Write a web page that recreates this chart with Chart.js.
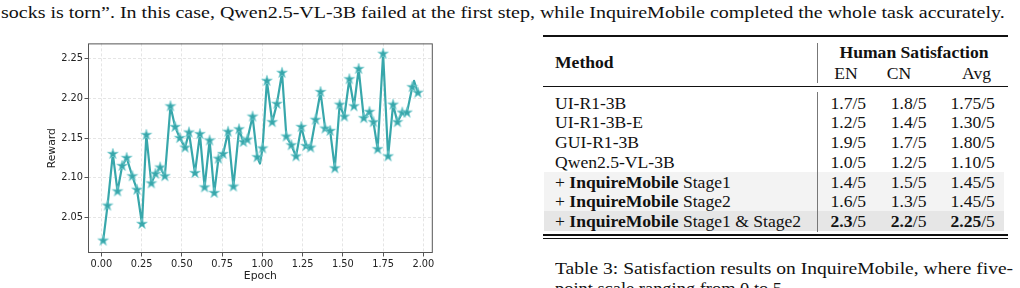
<!DOCTYPE html>
<html>
<head>
<meta charset="utf-8">
<script src="https://cdn.jsdelivr.net/npm/chart.js@4.4.1/dist/chart.umd.min.js"></script>
<style>
  html, body { margin: 0; padding: 0; background: #fff; }
  body { width: 1020px; height: 288px; overflow: hidden; position: relative; font-family: 'Liberation Serif', serif; color: #111; }
  .txt { position: absolute; white-space: nowrap; font-size: 17.6px; line-height: 20px; height: 20px; }
  .fit { transform-origin: 0 50%; }
  .c { text-align: center; width: 90px; }
  .rule { position: absolute; left: 543px; width: 465px; background: #111; }
  .vbar { position: absolute; left: 817px; width: 1.3px; background: #777; }
  .shade { position: absolute; left: 544px; width: 460px; }
  #chartBox { position: absolute; left: 40px; top: 36px; width: 400px; height: 252px; }
</style>
</head>
<body>
<div id="topLine" class="txt fit" style="left:1px; top:2px;">socks is torn”. In this case, Qwen2.5-VL-3B failed at the first step, while InquireMobile completed the whole task accurately.</div>

<div id="table"></div>

<div id="cap1" class="txt fit" style="left:555px; top:258px;">Table 3: Satisfaction results on InquireMobile, where five-</div>
<div id="cap2" class="txt fit" style="left:555px; top:278px;">point scale ranging from 0 to 5.</div>

<div id="chartBox"><canvas id="rewardChart" width="400" height="252"></canvas></div>

<script>
// reward curve
const epochs = [0.011, 0.038, 0.071, 0.100, 0.129, 0.157, 0.192, 0.221, 0.252, 0.279,
  0.310, 0.336, 0.365, 0.394, 0.429, 0.458, 0.487, 0.520, 0.544, 0.581,
  0.612, 0.641, 0.672, 0.701, 0.727, 0.756, 0.787, 0.820, 0.855, 0.882,
  0.906, 0.939, 0.968, 0.985, 1.001, 1.028, 1.061, 1.090, 1.122, 1.149,
  1.180, 1.209, 1.242, 1.271, 1.299, 1.330, 1.361, 1.390, 1.421, 1.450,
  1.480, 1.509, 1.540, 1.569, 1.598, 1.630, 1.665, 1.690, 1.716, 1.750,
  1.781, 1.812, 1.839, 1.869, 1.898, 1.931, 1.942, 1.966];
const rewards = [2.021, 2.065, 2.130, 2.083, 2.115, 2.125, 2.102, 2.085, 2.042, 2.154,
  2.093, 2.105, 2.113, 2.102, 2.190, 2.164, 2.150, 2.138, 2.157, 2.106,
  2.155, 2.088, 2.147, 2.081, 2.124, 2.130, 2.158, 2.089, 2.161, 2.145,
  2.148, 2.177, 2.126, 2.118, 2.137, 2.222, 2.170, 2.193, 2.232, 2.152,
  2.141, 2.127, 2.164, 2.140, 2.138, 2.173, 2.208, 2.162, 2.159, 2.112,
  2.192, 2.177, 2.224, 2.190, 2.237, 2.175, 2.183, 2.170, 2.136, 2.256,
  2.127, 2.192, 2.170, 2.182, 2.182, 2.214, 2.222, 2.207];
// samples where the line bends but no star is drawn
const unmarked = [33, 66];

const xTicks = [0, 0.25, 0.5, 0.75, 1.0, 1.25, 1.5, 1.75, 2.0];
const yTicks = [2.05, 2.10, 2.15, 2.20, 2.25];

// table 3
const methods = ['UI-R1-3B', 'UI-R1-3B-E', 'GUI-R1-3B', 'Qwen2.5-VL-3B',
  '+ InquireMobile Stage1', '+ InquireMobile Stage2', '+ InquireMobile Stage1 & Stage2'];
const scoreEN = ['1.7/5', '1.2/5', '1.9/5', '1.0/5', '1.4/5', '1.6/5', '2.3/5'];
const scoreCN = ['1.8/5', '1.4/5', '1.7/5', '1.2/5', '1.5/5', '1.3/5', '2.2/5'];
const scoreAvg = ['1.75/5', '1.30/5', '1.80/5', '1.10/5', '1.45/5', '1.45/5', '2.25/5'];
const bestRow = 6;

// ---- table layout ----
const table = document.getElementById('table');
function add(html, cls, style) {
  const d = document.createElement('div');
  d.className = cls;
  d.innerHTML = html;
  d.setAttribute('style', style);
  table.appendChild(d);
  return d;
}
add('', 'rule', 'top:35px; height:2px;');
add('', 'rule', 'top:86px; height:1.2px;');
add('', 'rule', 'top:233.8px; height:2.2px;');
add('', 'rule', 'top:237.6px; height:1px;');
add('', 'shade', 'top:171.5px; height:39.5px; background:#f3f3f3;');
add('', 'shade', 'top:211px; height:19.8px; background:#e6e6e6;');
add('', 'vbar', 'top:43px; height:39.5px;');
add('', 'vbar', 'top:92px; height:139.8px;');

add('<b>Method</b>', 'txt', 'left:555px; top:51.5px;');
add('<b>Human Satisfaction</b>', 'txt c', 'left:' + (914 - 75) + 'px; width:150px; top:41.7px;');
const colCenters = [848.3, 908.6, 972.7];
const headCenters = [846, 899, 976.5];
['EN', 'CN', 'Avg'].forEach((h, i) => add(h, 'txt c', 'left:' + (headCenters[i] - 45) + 'px; top:62.5px;'));

const rowPitch = 19.7;
methods.forEach((m, r) => {
  const top = 102.7 + r * rowPitch - 10;
  add(m.replace('InquireMobile', '<b>InquireMobile</b>'), 'txt', 'left:555px; top:' + top + 'px;');
  [scoreEN, scoreCN, scoreAvg].forEach((col, i) => {
    let v = col[r];
    if (r === bestRow) v = '<b>' + v.split('/')[0] + '</b>/' + v.split('/')[1];
    add(v, 'txt c', 'left:' + (colCenters[i] - 45) + 'px; top:' + top + 'px;');
  });
});

// stretch the prose lines to the measured widths of the page
function fitWidth(id, w) {
  const el = document.getElementById(id);
  el.style.transform = 'scaleX(' + (w / el.offsetWidth) + ')';
}
fitWidth('topLine', 1004);
fitWidth('cap1', 458);
fitWidth('cap2', 458 * 0.505);

// ---- chart ----
const teal = '#38a7ab';

function makeStar(r, fill, edge) {
  const size = Math.ceil(r * 2 + 4);
  const c = document.createElement('canvas');
  c.width = c.height = size;
  const g = c.getContext('2d');
  g.beginPath();
  for (let i = 0; i < 10; i++) {
    const rr = i % 2 ? r * 0.381966 : r;
    const a = -Math.PI / 2 + i * Math.PI / 5;
    g.lineTo(size / 2 + rr * Math.cos(a), size / 2 + rr * Math.sin(a));
  }
  g.closePath();
  g.fillStyle = fill;
  g.fill();
  g.lineWidth = 0.8;
  g.strokeStyle = edge;
  g.stroke();
  return c;
}
const star = makeStar(5.6, teal, 'rgba(120,205,208,0.9)');

const boxPlugin = {
  id: 'box',
  afterDraw(chart) {
    const {ctx, chartArea: a} = chart;
    ctx.save();
    ctx.strokeStyle = '#555';
    ctx.lineWidth = 1;
    ctx.strokeRect(a.left + 0.5, a.top + 0.5, a.right - a.left - 1, a.bottom - a.top - 1);
    ctx.restore();
  }
};

Chart.defaults.font.family = 'DejaVu Sans';
Chart.defaults.color = '#222';

new Chart(document.getElementById('rewardChart'), {
  type: 'line',
  data: {
    datasets: [{
      label: 'Reward',
      data: epochs.map((e, i) => ({x: e, y: rewards[i]})),
      borderColor: teal,
      borderWidth: 2.2,
      borderJoinStyle: 'round',
      borderCapStyle: 'round',
      tension: 0,
      pointStyle: star,
      pointRadius: ctx => unmarked.includes(ctx.dataIndex) ? 0 : 5,
      pointHoverRadius: 5,
    }]
  },
  options: {
    responsive: false,
    animation: false,
    events: [],
    layout: { padding: { left: 0, right: 5, top: 6, bottom: 0 } },
    plugins: { legend: { display: false }, tooltip: { enabled: false } },
    scales: {
      x: {
        type: 'linear',
        min: -0.0833,
        max: 2.0586,
        afterBuildTicks: axis => { axis.ticks = xTicks.map(v => ({value: v})); },
        afterFit: axis => { axis.height = 35; },
        ticks: { font: { size: 9.8 }, padding: 1.7, maxRotation: 0, callback: v => v.toFixed(2) },
        grid: { color: '#dedede', lineWidth: 0.8, tickColor: '#555', tickLength: 3.5, tickWidth: 1 },
        border: { display: false, dash: [3, 2] },
        title: { display: true, text: 'Epoch', font: { size: 10.8 }, padding: { top: 0, bottom: 5.5 } }
      },
      y: {
        min: 2.0054,
        max: 2.2691,
        afterBuildTicks: axis => { axis.ticks = yTicks.map(v => ({value: v})); },
        afterFit: axis => { axis.width = 48; },
        ticks: { font: { size: 9.8 }, padding: 1.5, callback: v => v.toFixed(2) },
        grid: { color: '#dedede', lineWidth: 0.8, tickColor: '#555', tickLength: 3.5, tickWidth: 1 },
        border: { display: false, dash: [3, 2] },
        title: { display: true, text: 'Reward', font: { size: 10.8 }, padding: { top: 5.8, bottom: 0 } }
      }
    }
  },
  plugins: [boxPlugin]
});
</script>
</body>
</html>
